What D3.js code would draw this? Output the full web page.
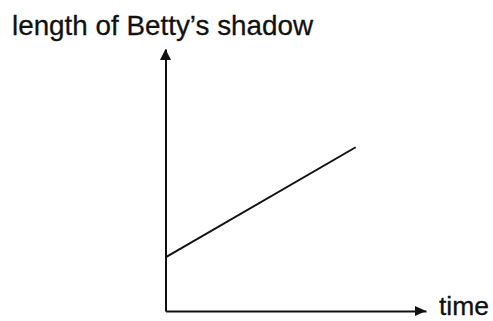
<!DOCTYPE html>
<html>
<head>
<meta charset="utf-8">
<script src="https://cdn.jsdelivr.net/npm/d3@7"></script>
<style>
  body { margin: 0; background: #fff; }
  svg { display: block; }
  text { font-family: "Liberation Sans", Arial, sans-serif; fill: #111; }
</style>
</head>
<body>
<svg id="chart" width="493" height="321"></svg>
<script>
// shadow length as time goes on (no units in the original sketch)
let time = [0, 7.3];
let shadow = [2.05, 6.25];
let axisLabels = { x: "time", y: "length of Betty\u2019s shadow" };

let width = 493, height = 321;
let svg = d3.select("#chart");

let x = d3.scaleLinear().domain([0, 10]).range([165.5, 426]);
let y = d3.scaleLinear().domain([0, 10]).range([311, 49]);

let ink = "#111";

// axes, no ticks, just the lines
svg.append("g")
  .attr("transform", "translate(0," + y(0) + ")")
  .call(d3.axisBottom(x).ticks(0).tickSizeOuter(0))
  .select(".domain").attr("stroke", ink).attr("stroke-width", 2);

svg.append("g")
  .attr("transform", "translate(" + x(0) + ",0)")
  .call(d3.axisLeft(y).ticks(0).tickSizeOuter(0))
  .select(".domain").attr("stroke", ink).attr("stroke-width", 2);

// arrow heads
svg.append("path")
  .attr("d", "M" + x(10) + "," + y(0) + "L" + (x(10) - 11) + "," + (y(0) - 5) + "L" + (x(10) - 11) + "," + (y(0) + 5) + "Z")
  .attr("fill", ink);

svg.append("path")
  .attr("d", "M" + x(0) + "," + y(10) + "L" + (x(0) - 5.5) + "," + (y(10) + 11) + "L" + (x(0) + 5.5) + "," + (y(10) + 11) + "Z")
  .attr("fill", ink);

// the shadow line
let line = d3.line().x(d => x(d[0])).y(d => y(d[1]));
svg.append("path")
  .datum(d3.zip(time, shadow))
  .attr("d", line)
  .attr("fill", "none")
  .attr("stroke", ink)
  .attr("stroke-width", 2);

// labels
svg.append("text")
  .attr("x", 12)
  .attr("y", 35)
  .attr("font-size", 28)
  .attr("stroke", ink)
  .attr("stroke-width", 0.3)
  .attr("textLength", 301)
  .attr("lengthAdjust", "spacingAndGlyphs")
  .text(axisLabels.y);

svg.append("text")
  .attr("x", 439)
  .attr("y", 315)
  .attr("font-size", 25)
  .attr("stroke", ink)
  .attr("stroke-width", 0.3)
  .attr("textLength", 50)
  .attr("lengthAdjust", "spacingAndGlyphs")
  .text(axisLabels.x);
</script>
</body>
</html>
